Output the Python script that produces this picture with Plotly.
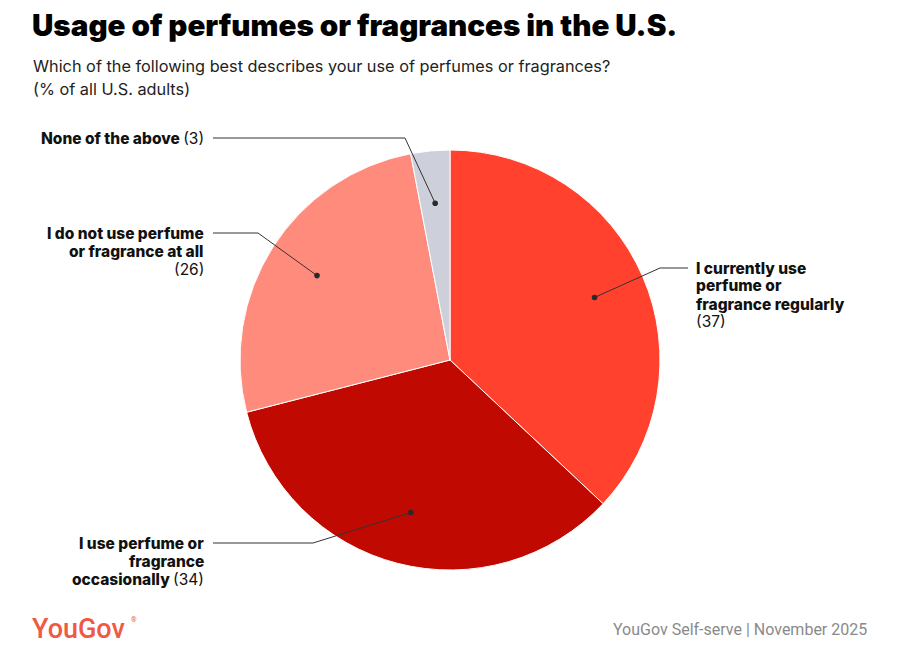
import math
import plotly.graph_objects as go

# ---- data ----
categories = [
    "I currently use perfume or fragrance regularly",
    "I use perfume or fragrance occasionally",
    "I do not use perfume or fragrance at all",
    "None of the above",
]
values = [37, 34, 26, 3]
label_lines = [
    ["I currently use", "perfume or", "fragrance regularly"],
    ["I use perfume or", "fragrance", "occasionally"],
    ["I do not use perfume", "or fragrance at all"],
    ["None of the above"],
]
colors = ["#FF412E", "#C00900", "#FF8B7C", "#CDD0DB"]

# page offset (browser body margin) compensation
OFF = 8
W, H = 900 - OFF, 650 - OFF
CX, CY, R = 450, 360, 210  # pie centre / radius in page px

# label layout: (elbow x, elbow/line y, line end x, side)
label_layout = [
    (660, 268, 688, "left"),
    (313, 543, 213, "right"),
    (258, 233, 213, "right"),
    (405, 138, 213, "right"),
]

FONT = "Inter, Roboto, Arial, sans-serif"
LINE_H = 18

def px(x):
    return (x - OFF) / W

def py(y):
    return 1 - (y - OFF) / H

fig = go.Figure(
    go.Pie(
        labels=categories,
        values=values,
        sort=False,
        direction="clockwise",
        rotation=0,
        marker=dict(colors=colors, line=dict(color="white", width=1)),
        textinfo="none",
        hoverinfo="label+value",
        domain=dict(x=[px(CX - R), px(CX + R)], y=[py(CY + R), py(CY - R)]),
        showlegend=False,
    )
)

shapes = []
annotations = []
total = sum(values)
cum = 0
for i, v in enumerate(values):
    mid = (cum + v / 2) / total * 2 * math.pi
    cum += v
    dx = CX + 0.75 * R * math.sin(mid)
    dy = CY - 0.75 * R * math.cos(mid)
    ex, ey, lx, side = label_layout[i]
    shapes.append(dict(type="path", xref="paper", yref="paper",
                       path=f"M {px(dx)} {py(dy)} L {px(ex)} {py(ey)} L {px(lx)} {py(ey)}",
                       line=dict(color="#333333", width=1)))
    shapes.append(dict(type="circle", xref="paper", yref="paper",
                       x0=px(dx - 2.8), x1=px(dx + 2.8), y0=py(dy + 2.8), y1=py(dy - 2.8),
                       fillcolor="#2a2a2a", line=dict(width=0)))
    lines = list(label_lines[i])
    num = f"<span style='font-weight:400'>({v})</span>"
    if side == "left":
        lines.append(num)
        tx = lx + 7
        xanchor = "left"
    else:
        if i in (1, 3):
            lines[-1] = lines[-1] + " " + num
        else:
            lines.append(num)
        tx = lx - 8
        xanchor = "right"
    for k, ln in enumerate(lines):
        annotations.append(dict(
            x=px(tx), y=py(ey + k * LINE_H), xref="paper", yref="paper",
            xanchor=xanchor, yanchor="middle", align=xanchor, showarrow=False,
            text=ln, borderpad=0,
            font=dict(family=FONT, size=15.5, color="#111111", weight=800),
        ))

# title, subtitle, footer
annotations += [
    dict(x=px(30), y=py(25), xref="paper", yref="paper", xanchor="left", yanchor="middle",
         showarrow=False, text="Usage of perfumes or fragrances in the U.S.",
         font=dict(family=FONT, size=29.6, color="#000000", weight=900)),
    dict(x=px(31), y=py(66), xref="paper", yref="paper", xanchor="left", yanchor="middle",
         showarrow=False, text="Which of the following best describes your use of perfumes or fragrances?",
         font=dict(family=FONT, size=16.3, color="#222222")),
    dict(x=px(31), y=py(89), xref="paper", yref="paper", xanchor="left", yanchor="middle",
         showarrow=False, text="(% of all U.S. adults)",
         font=dict(family=FONT, size=16.3, color="#222222")),
    dict(x=px(30), y=py(629), xref="paper", yref="paper", xanchor="left", yanchor="middle",
         showarrow=False, text="YouGov",
         font=dict(family="Roboto, Arial, sans-serif", size=27, color="#EE5A45", weight=500)),
    dict(x=px(129), y=py(620), xref="paper", yref="paper", xanchor="left", yanchor="middle",
         showarrow=False, text="®",
         font=dict(family="Roboto, Arial, sans-serif", size=7, color="#EE5A45")),
    dict(x=px(869), y=py(629), xref="paper", yref="paper", xanchor="right", yanchor="middle",
         showarrow=False, text="YouGov Self-serve | November 2025",
         font=dict(family="Roboto, Arial, sans-serif", size=16, color="#8a8a8a")),
]

fig.update_layout(
    width=W, height=H,
    margin=dict(l=0, r=0, t=0, b=0),
    paper_bgcolor="white", plot_bgcolor="white",
    shapes=shapes, annotations=annotations,
)
fig.write_html("out.html")
